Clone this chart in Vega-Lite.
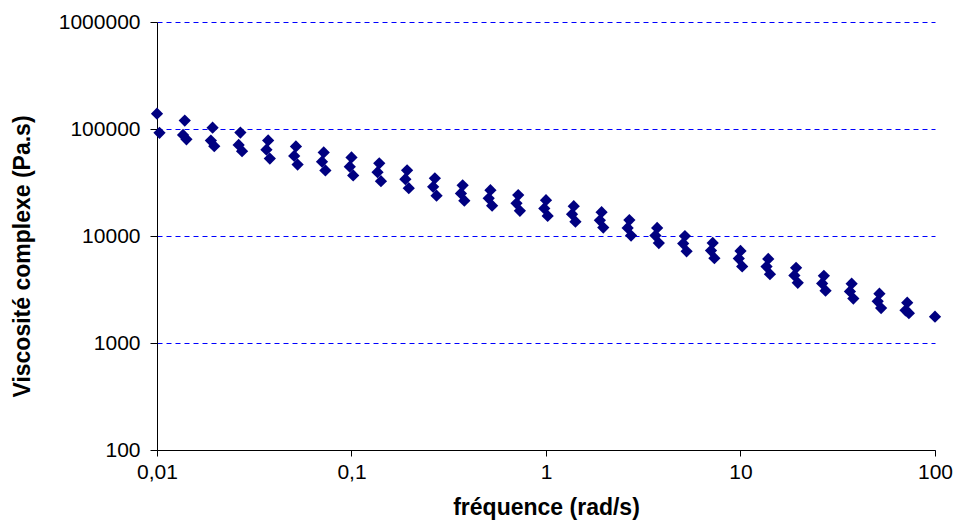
{
  "$schema": "https://vega.github.io/schema/vega-lite/v6.json",
  "autosize": "none",
  "width": 778,
  "height": 428,
  "padding": {"left": 157, "top": 22, "right": 18, "bottom": 74},
  "background": "white",
  "config": {
    "view": {"stroke": null},
    "font": "Liberation Sans",
    "axis": {
      "domainColor": "black",
      "tickColor": "black",
      "labelColor": "black",
      "titleColor": "black",
      "labelFont": "Liberation Sans",
      "titleFont": "Liberation Sans"
    }
  },
  "data": {
    "values": [
      {"f": 0.01, "v": 139000, "s": "A"},
      {"f": 0.01389, "v": 120000, "s": "A"},
      {"f": 0.01931, "v": 103000, "s": "A"},
      {"f": 0.02683, "v": 92700, "s": "A"},
      {"f": 0.03728, "v": 78200, "s": "A"},
      {"f": 0.05179, "v": 68700, "s": "A"},
      {"f": 0.07197, "v": 60400, "s": "A"},
      {"f": 0.1, "v": 54300, "s": "A"},
      {"f": 0.1389, "v": 47800, "s": "A"},
      {"f": 0.1931, "v": 41100, "s": "A"},
      {"f": 0.2683, "v": 34600, "s": "A"},
      {"f": 0.3728, "v": 29800, "s": "A"},
      {"f": 0.5179, "v": 26800, "s": "A"},
      {"f": 0.7197, "v": 24100, "s": "A"},
      {"f": 1, "v": 21600, "s": "A"},
      {"f": 1.389, "v": 19000, "s": "A"},
      {"f": 1.931, "v": 16700, "s": "A"},
      {"f": 2.683, "v": 14100, "s": "A"},
      {"f": 3.728, "v": 11900, "s": "A"},
      {"f": 5.179, "v": 10000, "s": "A"},
      {"f": 7.197, "v": 8610, "s": "A"},
      {"f": 10, "v": 7250, "s": "A"},
      {"f": 13.89, "v": 6110, "s": "A"},
      {"f": 19.31, "v": 5040, "s": "A"},
      {"f": 26.83, "v": 4250, "s": "A"},
      {"f": 37.28, "v": 3580, "s": "A"},
      {"f": 51.79, "v": 2890, "s": "A"},
      {"f": 71.97, "v": 2380, "s": "A"},
      {"f": 100, "v": 1760, "s": "A"},
      {"f": 0.0103, "v": 92000, "s": "B"},
      {"f": 0.01361, "v": 88000, "s": "B"},
      {"f": 0.01892, "v": 78000, "s": "B"},
      {"f": 0.02629, "v": 71000, "s": "B"},
      {"f": 0.03653, "v": 64000, "s": "B"},
      {"f": 0.05075, "v": 56000, "s": "B"},
      {"f": 0.07053, "v": 49500, "s": "B"},
      {"f": 0.098, "v": 44500, "s": "B"},
      {"f": 0.1361, "v": 39500, "s": "B"},
      {"f": 0.1892, "v": 34000, "s": "B"},
      {"f": 0.2629, "v": 28800, "s": "B"},
      {"f": 0.3653, "v": 25000, "s": "B"},
      {"f": 0.5075, "v": 22500, "s": "B"},
      {"f": 0.7053, "v": 20200, "s": "B"},
      {"f": 0.98, "v": 18100, "s": "B"},
      {"f": 1.361, "v": 16000, "s": "B"},
      {"f": 1.892, "v": 14000, "s": "B"},
      {"f": 2.629, "v": 11900, "s": "B"},
      {"f": 3.653, "v": 10100, "s": "B"},
      {"f": 5.075, "v": 8500, "s": "B"},
      {"f": 7.053, "v": 7300, "s": "B"},
      {"f": 9.8, "v": 6150, "s": "B"},
      {"f": 13.61, "v": 5180, "s": "B"},
      {"f": 18.92, "v": 4280, "s": "B"},
      {"f": 26.29, "v": 3600, "s": "B"},
      {"f": 36.53, "v": 3030, "s": "B"},
      {"f": 50.75, "v": 2450, "s": "B"},
      {"f": 70.53, "v": 2020, "s": "B"},
      {"f": 0.01417, "v": 80000, "s": "C"},
      {"f": 0.0197, "v": 69000, "s": "C"},
      {"f": 0.02737, "v": 62000, "s": "C"},
      {"f": 0.03803, "v": 53000, "s": "C"},
      {"f": 0.05283, "v": 46500, "s": "C"},
      {"f": 0.07341, "v": 41000, "s": "C"},
      {"f": 0.102, "v": 36800, "s": "C"},
      {"f": 0.1417, "v": 32500, "s": "C"},
      {"f": 0.197, "v": 28000, "s": "C"},
      {"f": 0.2737, "v": 23800, "s": "C"},
      {"f": 0.3803, "v": 21400, "s": "C"},
      {"f": 0.5283, "v": 19200, "s": "C"},
      {"f": 0.7341, "v": 17200, "s": "C"},
      {"f": 1.02, "v": 15400, "s": "C"},
      {"f": 1.417, "v": 13600, "s": "C"},
      {"f": 1.97, "v": 12000, "s": "C"},
      {"f": 2.737, "v": 10100, "s": "C"},
      {"f": 3.803, "v": 8600, "s": "C"},
      {"f": 5.283, "v": 7200, "s": "C"},
      {"f": 7.341, "v": 6200, "s": "C"},
      {"f": 10.2, "v": 5200, "s": "C"},
      {"f": 14.17, "v": 4400, "s": "C"},
      {"f": 19.7, "v": 3650, "s": "C"},
      {"f": 27.37, "v": 3080, "s": "C"},
      {"f": 38.03, "v": 2600, "s": "C"},
      {"f": 52.83, "v": 2120, "s": "C"},
      {"f": 73.41, "v": 1900, "s": "C"}
    ]
  },
  "mark": {"type": "point", "shape": "diamond", "filled": true, "size": 150, "color": "#000080", "opacity": 1, "clip": false},
  "encoding": {
    "x": {
      "field": "f",
      "type": "quantitative",
      "scale": {"type": "log", "domain": [0.01, 100], "nice": false},
      "axis": {
        "title": "fréquence (rad/s)",
        "titleFontSize": 23,
        "titleFontWeight": "bold",
        "titlePadding": 14,
        "values": [0.01, 0.1, 1, 10, 100],
        "labelExpr": "replace(format(datum.value, '~g'), '.', ',')",
        "labelFontSize": 21,
        "labelPadding": 5,
        "tickSize": 6,
        "grid": false,
        "labelFlush": false,
        "labelOverlap": false
      }
    },
    "y": {
      "field": "v",
      "type": "quantitative",
      "scale": {"type": "log", "domain": [100, 1000000], "nice": false},
      "axis": {
        "title": "Viscosité complexe (Pa.s)",
        "titleFontSize": 23,
        "titleFontWeight": "bold",
        "titlePadding": 24,
        "titleY": 234,
        "values": [100, 1000, 10000, 100000, 1000000],
        "format": "d",
        "labelFontSize": 21,
        "labelPadding": 10,
        "tickSize": 7,
        "grid": true,
        "gridColor": "#0000FF",
        "gridDash": [5, 4],
        "gridWidth": 1,
        "gridOpacity": 1,
        "labelFlush": false,
        "labelOverlap": false
      }
    }
  }
}
